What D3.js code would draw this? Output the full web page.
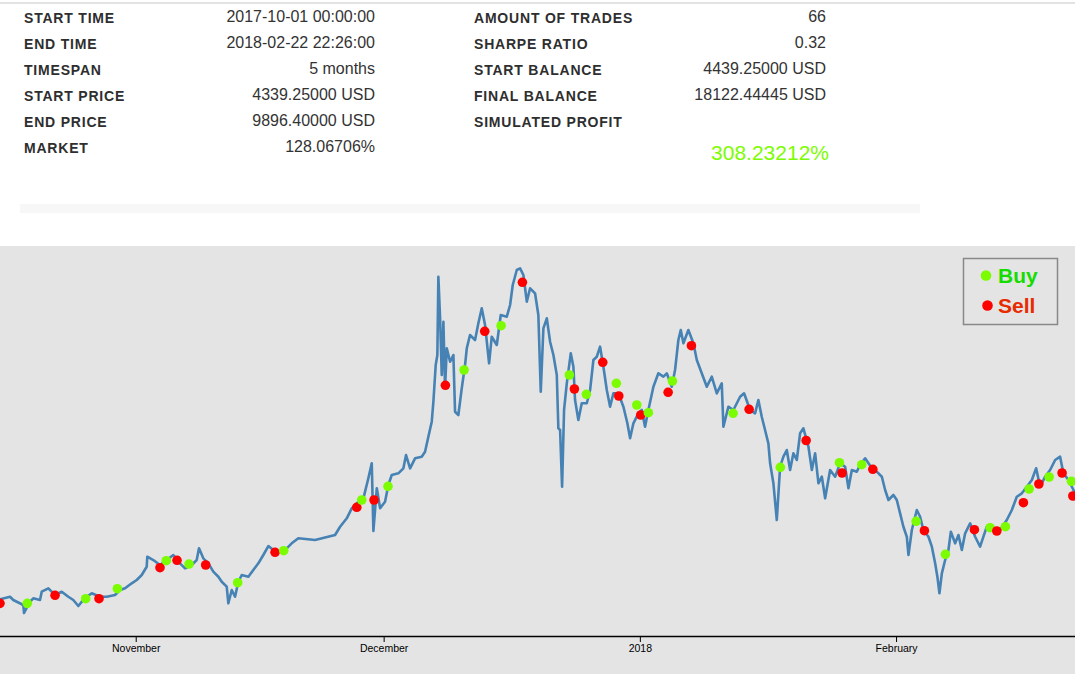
<!DOCTYPE html>
<html>
<head>
<meta charset="utf-8">
<script src="https://cdn.jsdelivr.net/npm/d3@7"></script>
<style>
  body { margin: 0; background: #fff; font-family: Arial, "Liberation Sans", sans-serif; }
  svg { display: block; }
</style>
</head>
<body>
<svg id="chart" width="1075" height="674"></svg>
<script>
// stats table
const leftLabels = ["START TIME", "END TIME", "TIMESPAN", "START PRICE", "END PRICE", "MARKET"];
const leftValues = ["2017-10-01 00:00:00", "2018-02-22 22:26:00", "5 months", "4339.25000 USD", "9896.40000 USD", "128.06706%"];
const rightLabels = ["AMOUNT OF TRADES", "SHARPE RATIO", "START BALANCE", "FINAL BALANCE", "SIMULATED PROFIT"];
const rightValues = ["66", "0.32", "4439.25000 USD", "18122.44445 USD", ""];
const profit = "308.23212%";

// price series: days since 2017-10-01 00:00 and price in USD
const priceDays = [0, 14.58, 15.79, 16.19, 17.40, 17.49, 18.21, 18.61, 19.42, 19.63, 20.43, 21.24, 22.05, 22.85, 23.45, 24.06, 24.47, 25.07, 25.68, 26.68, 27.49, 28.50, 29.10, 29.71, 30.52, 31.12, 31.73, 32.33, 32.40, 33.13, 33.94, 34.75, 35.55, 36.36, 36.97, 37.78, 38.38, 38.66, 39.18, 39.79, 40.39, 41.00, 41.41, 42.01, 42.21, 42.62, 43.02, 43.42, 43.83, 44.63, 45.23, 45.84, 46.44, 47.05, 47.65, 48.46, 49.27, 49.88, 50.68, 52.70, 55.12, 55.73, 56.54, 57.14, 57.75, 58.55, 59.15, 59.56, 59.76, 60.17, 60.57, 61.17, 61.57, 61.98, 62.78, 63.39, 63.71, 64.20, 64.80, 65.61, 66.01, 66.41, 66.82, 67.02, 67.30, 67.50, 67.62, 67.83, 68.03, 68.23, 68.43, 68.64, 69.04, 69.44, 69.64, 70.04, 70.45, 70.85, 71.06, 71.45, 72.06, 72.46, 72.87, 73.27, 73.76, 74.08, 74.69, 75.17, 75.90, 76.30, 76.62, 77.11, 77.51, 77.91, 78.32, 78.72, 79.32, 79.72, 80.01, 80.33, 80.74, 81.14, 81.54, 81.95, 82.14, 82.35, 82.59, 82.83, 83.16, 83.64, 83.96, 84.16, 84.56, 84.97, 85.58, 85.98, 86.38, 86.79, 87.19, 87.59, 88.00, 88.40, 88.80, 89.40, 90.01, 90.49, 90.82, 91.22, 91.82, 92.23, 92.63, 93.03, 93.64, 94.24, 94.85, 95.26, 95.86, 96.26, 96.66, 96.95, 97.27, 97.87, 98.48, 98.89, 99.49, 100.10, 100.70, 101.31, 101.91, 102.11, 102.71, 103.32, 104.13, 104.61, 105.34, 105.94, 106.34, 106.75, 107.15, 107.55, 107.76, 108.16, 108.57, 108.97, 109.37, 109.78, 110.18, 110.58, 110.99, 111.39, 111.79, 112.40, 112.81, 113.21, 113.61, 114.02, 114.42, 115.02, 115.63, 116.23, 116.84, 117.24, 117.65, 118.25, 118.65, 119.26, 120.07, 120.67, 121.28, 121.68, 122.08, 122.68, 123.09, 123.49, 123.89, 124.30, 124.50, 124.91, 125.51, 125.91, 126.31, 126.92, 127.33, 127.73, 128.00, 128.25, 128.54, 128.94, 129.34, 129.63, 130.15, 130.55, 130.96, 131.36, 131.96, 132.57, 133.17, 133.57, 133.98, 134.78, 135.59, 136.40, 137.01, 137.61, 138.22, 138.82, 139.43, 139.95, 140.43, 141.04, 141.64, 142.25, 142.85, 143.25, 143.86, 144.47, 144.93];
const priceValues = [4339, 5735, 5844, 5706, 5496, 5161, 5634, 5777, 5706, 6054, 6196, 5916, 6054, 5844, 5706, 5454, 5634, 5844, 5987, 5844, 5844, 5916, 6125, 6196, 6406, 6545, 6754, 7102, 7522, 7383, 7174, 7383, 7593, 7245, 7035, 7174, 7383, 7874, 7454, 7245, 6893, 6683, 6473, 6264, 5568, 6125, 5844, 6473, 6754, 6683, 6964, 7245, 7593, 7970, 7802, 7731, 7874, 8083, 8293, 8222, 8431, 8779, 9132, 9551, 9761, 9970, 10809, 11438, 8599, 10390, 9551, 9828, 10528, 10947, 11018, 11228, 11786, 11228, 11647, 11715, 11924, 12553, 13182, 14021, 15560, 15979, 19262, 17518, 15140, 17375, 14582, 16260, 15698, 15979, 13601, 13463, 14582, 15560, 16260, 16817, 16608, 17308, 17937, 17237, 15631, 16746, 16398, 17656, 17585, 18075, 18914, 19543, 19614, 19333, 18214, 18776, 18566, 17656, 14440, 17098, 17518, 16537, 15979, 15140, 12905, 12834, 10457, 13673, 14792, 16050, 15488, 14092, 13253, 13954, 13954, 14511, 15769, 15907, 16327, 15488, 14511, 13811, 14373, 14373, 13811, 13115, 12486, 13115, 13534, 13673, 12973, 13673, 14650, 15211, 15069, 15211, 14650, 15350, 16608, 17027, 16469, 17027, 16469, 15769, 15211, 14650, 15069, 14373, 14792, 12973, 13811, 13673, 14230, 14373, 13673, 13534, 14092, 13392, 12834, 12276, 11438, 10599, 9060, 11295, 11715, 11995, 11157, 11857, 11576, 12696, 12905, 12134, 11157, 11857, 10599, 10876, 9970, 11157, 10876, 11438, 11295, 10390, 11157, 11086, 11367, 11647, 11228, 11086, 10876, 10318, 9899, 10109, 9899, 9341, 8779, 8360, 7593, 8641, 9480, 9199, 8641, 8360, 7941, 7245, 6683, 5987, 6825, 7383, 7802, 8570, 8083, 8431, 7802, 8502, 8922, 8360, 7941, 8360, 8779, 8641, 8641, 9060, 9480, 10037, 10180, 10457, 10738, 11228, 10457, 10876, 11157, 11576, 11715, 11018, 10738, 10318, 9896];

// trades
const tradeDays = [14.58, 17.88, 21.24, 24.95, 26.56, 28.78, 33.94, 34.70, 36.00, 37.45, 39.47, 43.34, 47.86, 48.91, 57.75, 58.35, 59.84, 61.53, 68.47, 70.73, 73.23, 75.21, 77.79, 83.47, 84.08, 85.53, 87.51, 89.16, 89.45, 91.63, 92.11, 93.03, 95.42, 95.94, 98.24, 103.28, 105.22, 109.00, 112.12, 116.15, 116.47, 118.85, 120.19, 125.43, 126.43, 128.97, 132.48, 134.38, 135.19, 136.23, 138.41, 139.10, 140.28, 141.52, 143.09, 144.22, 144.39];
const tradePrices = [5567, 5567, 5903, 5761, 5761, 6180, 7060, 7354, 7371, 7215, 7174, 6431, 7706, 7773, 9593, 9899, 9899, 10474, 14708, 15350, 16973, 17207, 19027, 15140, 14553, 14331, 15673, 14792, 14260, 13882, 13463, 13559, 14415, 14889, 16369, 13534, 13702, 11270, 12394, 11463, 11031, 11379, 11186, 9006, 8612, 7622, 8654, 8738, 8599, 8779, 9786, 10360, 10570, 10863, 11031, 10683, 10067];
const tradeActions = tradeDays.map((d, i) => i % 2 === 0 ? "sell" : "buy");

const legendItems = ["Buy", "Sell"];

const startDate = new Date(2017, 9, 1);
const toDate = d => new Date(+startDate + d * 864e5);
const prices = priceDays.map((d, i) => ({ date: toDate(d), price: priceValues[i] }));
const trades = tradeDays.map((d, i) => ({ date: toDate(d), price: tradePrices[i], action: tradeActions[i] }));

const svg = d3.select("#chart");
const W = 1075;

// top border
svg.append("rect").attr("x", 0).attr("y", 2).attr("width", W).attr("height", 2).attr("fill", "#e2e2e2");

const rowY = i => 23 + i * 26;
const labelStyle = s => s.attr("font-size", 14).attr("font-weight", "bold")
  .attr("letter-spacing", "0.8px").attr("fill", "#2e2e2e");
const valueStyle = s => s.attr("font-size", 16).attr("fill", "#333").attr("text-anchor", "end");

svg.append("g").selectAll("text").data(leftLabels).join("text")
  .attr("x", 24).attr("y", (d, i) => rowY(i)).text(d => d).call(labelStyle);
svg.append("g").selectAll("text").data(leftValues).join("text")
  .attr("x", 375).attr("y", (d, i) => rowY(i) - 1).text(d => d).call(valueStyle);
svg.append("g").selectAll("text").data(rightLabels).join("text")
  .attr("x", 474).attr("y", (d, i) => rowY(i)).text(d => d).call(labelStyle);
svg.append("g").selectAll("text").data(rightValues).join("text")
  .attr("x", 826).attr("y", (d, i) => rowY(i) - 1).text(d => d).call(valueStyle);
svg.append("text").attr("x", 829).attr("y", 160).attr("text-anchor", "end")
  .attr("font-size", 21).attr("fill", "#7cfc00").text(profit);

svg.append("rect").attr("x", 20).attr("y", 204).attr("width", 900).attr("height", 9).attr("fill", "#f7f7f7");

// chart
svg.append("rect").attr("x", 0).attr("y", 246).attr("width", W).attr("height", 428).attr("fill", "#e4e4e4");

const x = d3.scaleTime()
  .domain([startDate, toDate(144.93)])
  .range([-120.5, 1077.3]);
const y = d3.scaleLinear().domain([4000, 20000]).range([640.7, 259.1]);

const line = d3.line().x(d => x(d.date)).y(d => y(d.price));

svg.append("path").datum(prices)
  .attr("d", line)
  .attr("fill", "none")
  .attr("stroke", "steelblue")
  .attr("stroke-width", 2.6)
  .attr("stroke-linejoin", "round");

svg.append("g").selectAll("circle").data(trades).join("circle")
  .attr("cx", d => x(d.date))
  .attr("cy", d => y(d.price))
  .attr("r", 4.8)
  .attr("fill", d => d.action === "buy" ? "#7cfc00" : "#ff0000");

// only the month ticks that fall inside the visible window
const monthTicks = x.ticks(d3.timeMonth.every(1)).filter(t => x(t) > 30 && x(t) < W - 30);
const axis = svg.append("g")
  .attr("transform", "translate(0,636)")
  .call(d3.axisBottom(x).tickValues(monthTicks).tickFormat(x.tickFormat()).tickSizeOuter(0));
axis.select(".domain").attr("stroke", "#000").attr("stroke-width", 1.5);
axis.selectAll("text").attr("font-size", 10.5).attr("font-family", "Arial, 'Liberation Sans', sans-serif").attr("fill", "#000");

// legend
const legend = svg.append("g");
legend.append("rect").attr("x", 963.5).attr("y", 258.5).attr("width", 94).attr("height", 66)
  .attr("fill", "none").attr("stroke", "#888").attr("stroke-width", 1.5);
const lg = legend.selectAll("g").data(legendItems).join("g")
  .attr("transform", (d, i) => `translate(0,${i * 30})`);
lg.append("circle").attr("cx", (d, i) => 986 + i * 1.5).attr("cy", 275.5).attr("r", 5.3)
  .attr("fill", d => d === "Buy" ? "#7cfc00" : "#ff0000");
lg.append("text").attr("x", 998).attr("y", 282.5).attr("font-size", 21).attr("font-weight", "bold")
  .attr("fill", d => d === "Buy" ? "#16dc00" : "#e82a00").text(d => d);
</script>
</body>
</html>
